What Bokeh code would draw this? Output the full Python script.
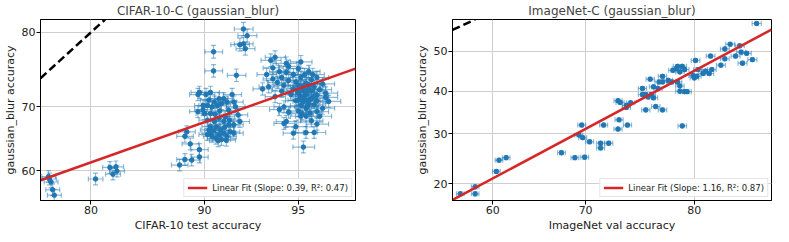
import math
from statistics import NormalDist

from bokeh.plotting import figure
from bokeh.models import (ColumnDataSource, Whisker, TeeHead, Range1d, FixedTicker,
                          Legend, LegendItem)
from bokeh.layouts import row
from bokeh.embed import file_html
from bokeh.resources import INLINE

# ---------------- data (accuracies in %) ----------------
cifar_test = [
    75.1, 75.2, 75.4, 75.6, 75.8, 80.5, 82.0, 82.6, 82.3, 82.7,
    88.75, 88.6, 89.0, 89.65, 89.65, 88.6, 89.1, 88.2,
    90.6, 90.6, 92.0, 92.4, 92.6, 92.4, 92.5, 92.2,
    89.55, 89.65, 90.1, 90.4, 90.65, 89.9, 90.2, 90.5, 90.85, 89.55,
    90.0, 90.4, 90.95, 91.25, 91.45, 91.55, 91.85, 91.95, 91.75, 90.3,
    90.4, 90.5, 90.75, 90.95, 91.05, 91.25, 91.45, 91.65, 91.85, 91.55,
    91.25, 91.35, 90.95, 90.65, 90.4, 91.85, 92.2, 92.1, 90.2, 90.6,
    91.1, 90.8, 91.3, 90.2, 89.9, 91.0, 90.7, 91.6, 90.3, 91.1,
    90.9, 91.4,
    95.2, 94.8, 95.3, 95.6, 94.5, 94.4, 95.7, 94.4, 95.7, 95.1,
    95.3, 94.0, 94.5, 95.1, 94.6, 93.6, 94.5, 93.7, 94.2, 93.9,
    94.1, 94.3, 94.0, 94.6, 94.8, 95.0, 95.4, 95.7, 95.9, 96.0,
    96.1, 95.9, 94.9, 94.7, 94.2, 94.6, 96.0, 95.8, 94.9, 95.5,
    94.3, 93.9, 94.4, 94.8, 93.4, 93.8,
    95.0, 95.1, 95.2, 95.3, 95.4, 95.5, 95.2, 95.0, 95.3, 95.6,
    95.4, 95.1, 95.7, 95.5, 95.1, 95.3, 95.0, 95.6, 95.2, 95.4,
    95.8, 95.0, 95.3, 95.5, 95.1, 95.6, 95.2, 95.4, 95.7, 94.9,
    95.35, 95.25, 95.55, 95.45, 94.95, 95.15,
]
cifar_blur = [
    59.0, 58.6, 58.1, 56.8, 55.9, 58.6, 60.5, 60.6, 59.4, 59.9,
    66.2, 65.5, 64.3, 63.4, 62.2, 61.8, 61.7, 60.9,
    77.6, 75.1, 74.5, 80.4, 79.6, 78.6, 78.0, 78.5,
    71.8, 72.1, 71.8, 72.1, 70.7, 70.2, 70.2, 70.0, 70.2, 69.3,
    69.0, 69.0, 71.2, 71.2, 70.7, 69.5, 70.7, 70.0, 71.8, 66.5,
    66.0, 65.5, 65.2, 65.7, 66.5, 66.0, 65.5, 66.2, 66.0, 67.3,
    67.8, 68.5, 68.3, 67.8, 67.0, 67.3, 67.8, 68.8, 65.8, 66.4,
    65.0, 67.0, 66.9, 68.0, 69.6, 69.4, 68.9, 68.0, 71.0, 70.5,
    64.8, 64.9,
    63.8, 66.0, 66.1, 66.1, 67.8, 67.5, 67.4, 70.0, 69.3, 68.6,
    68.6, 76.9, 76.1, 76.3, 75.7, 74.6, 74.9, 72.9, 75.0, 74.0,
    73.5, 72.3, 71.5, 73.8, 74.6, 75.4, 75.0, 74.2, 73.3, 72.0,
    70.8, 69.8, 70.9, 71.8, 69.6, 69.2, 71.4, 68.6, 67.0, 67.9,
    74.2, 75.5, 73.1, 72.6, 72.6, 76.5,
    72.0, 71.5, 72.4, 71.8, 72.6, 71.2, 70.8, 73.1, 73.4, 72.9,
    70.5, 70.2, 71.7, 73.9, 74.2, 69.8, 69.4, 70.3, 73.0, 71.0,
    72.5, 71.0, 72.1, 72.3, 72.9, 71.6, 71.3, 73.2, 70.9, 73.6,
    70.1, 74.6, 74.6, 69.1, 72.4, 69.0,
]
imagenet_val = [
    56.3, 58.0, 58.0, 60.4, 60.7, 61.5, 67.5, 68.9, 69.9, 69.3,
    69.7, 69.6, 70.4, 71.5, 71.5, 72.3, 71.8, 73.3, 73.2, 74.1,
    73.2, 73.4, 74.0, 74.0, 74.4, 75.5, 75.5, 75.8, 76.0, 76.3,
    76.5, 75.8, 76.2, 76.7, 77.3, 76.5, 76.9, 77.0, 77.3, 77.3,
    77.8, 78.1, 78.2, 78.5, 78.6, 79.0, 78.8, 79.2, 78.6, 78.8,
    78.8, 79.2, 79.4, 79.0, 79.9, 80.0, 80.2, 80.1, 80.3, 80.7,
    80.9, 81.3, 81.4, 81.2, 82.1, 82.4, 82.4, 82.8, 83.5, 83.6,
    83.2, 83.7, 84.0, 84.4, 84.7,
]
imagenet_blur = [
    18.3, 19.5, 18.3, 22.3, 24.5, 25.0, 26.0, 25.0, 25.1, 29.8,
    29.2, 32.0, 28.3, 28.0, 27.0, 28.0, 32.0, 33.2, 31.1, 32.0,
    37.7, 37.3, 36.6, 36.1, 37.2, 40.7, 39.2, 39.2, 38.6, 39.2,
    38.4, 35.5, 43.0, 36.3, 35.5, 41.1, 40.7, 42.3, 43.7, 42.3,
    42.7, 42.3, 45.2, 45.6, 46.2, 46.2, 44.8, 45.4, 42.3, 41.3,
    40.0, 39.9, 39.9, 31.8, 43.9, 43.3, 43.7, 47.7, 45.4, 44.4,
    45.0, 48.8, 45.4, 44.4, 46.5, 48.1, 50.6, 51.8, 51.4, 49.8,
    48.8, 47.0, 49.5, 47.9, 57.0,
]

cifar_xticks = [80, 90, 95]
cifar_yticks = [60, 70, 80]
imagenet_xticks = [60, 70, 80]
imagenet_yticks = [20, 30, 40, 50]

cifar_xlim = [74.1, 96.9]
cifar_ylim = [55.0, 81.5]
imagenet_xlim = [55.4, 85.7]
imagenet_ylim = [17.2, 58.0]

# linear fits in probit space: (slope, intercept)
cifar_fit = (0.39, -0.0406)
imagenet_fit = (1.16, -1.10)
cifar_fit_label = "Linear Fit (Slope: 0.39, R\u00b2: 0.47)"
imagenet_fit_label = "Linear Fit (Slope: 1.16, R\u00b2: 0.87)"

cifar_n = 10000      # CIFAR-10 test / CIFAR-10-C sample size
imagenet_n = 50000   # ImageNet val / ImageNet-C sample size

BLUE = "#1f77b4"
RED = "#d62728"
FONT = "DejaVu Sans"

ND = NormalDist()


def probit(pct):
    return ND.inv_cdf(pct / 100.0)


def ci(pct, n):
    p = pct / 100.0
    return 100.0 * 1.96 * math.sqrt(p * (1 - p) / n)


def panel(title, xlabel, ylabel, xs, ys, n, xticks, yticks, xlim, ylim, fit, fit_label,
          width, bl, br):
    data = dict(
        x=[probit(v) for v in xs],
        y=[probit(v) for v in ys],
        xl=[probit(v - ci(v, n)) for v in xs],
        xu=[probit(v + ci(v, n)) for v in xs],
        yl=[probit(v - ci(v, n)) for v in ys],
        yu=[probit(v + ci(v, n)) for v in ys],
    )
    src = ColumnDataSource(data)
    p = figure(width=width, height=234, output_backend="svg", toolbar_location=None,
               x_range=Range1d(probit(xlim[0]), probit(xlim[1])),
               y_range=Range1d(probit(ylim[0]), probit(ylim[1])),
               min_border_left=bl, min_border_right=br, min_border_top=0,
               min_border_bottom=0, title=title)
    p.title.text_font = FONT
    p.title.text_font_size = "12px"
    p.title.text_font_style = "normal"
    p.title.align = "center"
    p.title.standoff = 3
    p.title.offset = 0

    p.outline_line_color = "black"
    p.outline_line_width = 1
    p.outline_line_alpha = 1
    p.background_fill_color = "white"
    p.border_fill_color = "white"

    p.xaxis.ticker = FixedTicker(ticks=[probit(t) for t in xticks])
    p.yaxis.ticker = FixedTicker(ticks=[probit(t) for t in yticks])
    p.xaxis.major_label_overrides = {probit(t): str(t) for t in xticks}
    p.yaxis.major_label_overrides = {probit(t): str(t) for t in yticks}
    p.xaxis.axis_label = xlabel
    p.yaxis.axis_label = ylabel
    for ax in (p.xaxis[0], p.yaxis[0]):
        ax.axis_line_color = "black"
        ax.axis_line_width = 1
        ax.major_tick_line_color = "black"
        ax.major_tick_out = 4
        ax.major_tick_in = 0
        ax.minor_tick_line_color = None
        ax.major_label_text_font = FONT
        ax.major_label_text_font_size = "11px"
        ax.major_label_text_color = "#222222"
        ax.major_label_standoff = 1
        ax.axis_label_text_font = FONT
        ax.axis_label_text_font_size = "11px"
        ax.axis_label_text_font_style = "normal"
        ax.axis_label_text_color = "#222222"
        ax.axis_label_standoff = 2
    p.grid.grid_line_color = "#cfcfcf"
    p.grid.grid_line_width = 1

    head = dict(size=5, line_color=BLUE, line_alpha=0.5, line_width=1.2)
    hw = Whisker(source=src, base="y", lower="xl", upper="xu", dimension="width",
                 line_color=BLUE, line_alpha=0.5, line_width=1.2,
                 upper_head=TeeHead(**head), lower_head=TeeHead(**head))
    vw = Whisker(source=src, base="x", lower="yl", upper="yu", dimension="height",
                 line_color=BLUE, line_alpha=0.5, line_width=1.2,
                 upper_head=TeeHead(**head), lower_head=TeeHead(**head))
    hw.level = "underlay"
    vw.level = "underlay"
    p.add_layout(hw)
    p.add_layout(vw)

    p.scatter("x", "y", source=src, size=4.5, color=BLUE)

    # y = x reference line (identity in probit space)
    d0 = probit(max(xlim[0], ylim[0]))
    d1 = probit(min(xlim[1], ylim[1]))
    p.line([d0, d1], [d0, d1], line_color="black", line_dash="8 4", line_width=2.5)

    slope, icpt = fit
    fx = [probit(xlim[0]), probit(xlim[1])]
    fy = [slope * v + icpt for v in fx]
    r = p.line(fx, fy, line_color=RED, line_width=2.6)

    legend = Legend(items=[LegendItem(label=fit_label, renderers=[r])], location="bottom_right")
    legend.label_text_font = FONT
    legend.label_text_font_size = "8.5px"
    legend.label_text_color = "#222222"
    legend.glyph_width = 20
    legend.glyph_height = 11
    legend.label_height = 11
    legend.label_standoff = 5
    legend.padding = 3
    legend.spacing = 0
    legend.margin = 3
    legend.border_line_color = "#cccccc"
    legend.border_line_width = 1
    legend.background_fill_alpha = 0.85
    p.add_layout(legend)
    return p


p1 = panel("CIFAR-10-C (gaussian_blur)", "CIFAR-10 test accuracy", "gaussian_blur accuracy",
           cifar_test, cifar_blur, cifar_n, cifar_xticks, cifar_yticks, cifar_xlim, cifar_ylim,
           cifar_fit, cifar_fit_label, 390, 34, 35)
p2 = panel("ImageNet-C (gaussian_blur)", "ImageNet val accuracy", "gaussian_blur accuracy",
           imagenet_val, imagenet_blur, imagenet_n, imagenet_xticks, imagenet_yticks,
           imagenet_xlim, imagenet_ylim, imagenet_fit, imagenet_fit_label, 383, 62, 2)

layout = row(p1, p2)
open("out.html", "w").write(file_html(layout, INLINE))
